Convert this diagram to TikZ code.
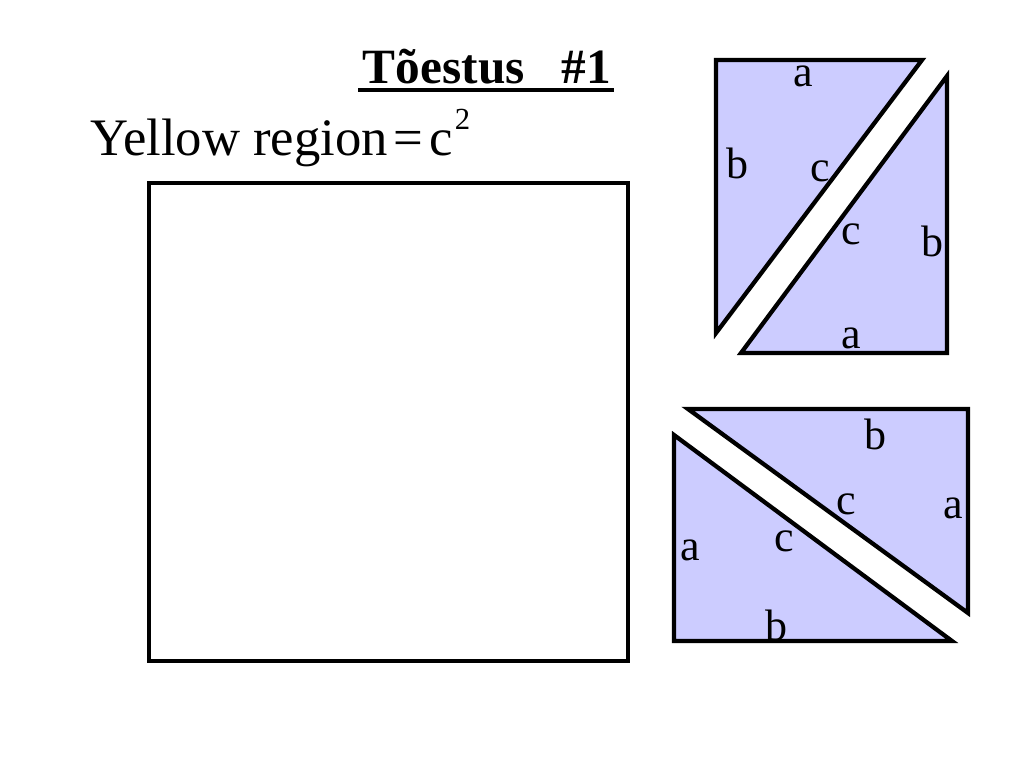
\documentclass[tikz,border=0pt]{standalone}
\usepackage{fontspec}
\setmainfont{Liberation Serif}
\definecolor{trifill}{RGB}{204,204,255}
\begin{document}
\begin{tikzpicture}[x=0.75pt,y=-0.75pt,
        tri/.style={draw=black,fill=trifill,line width=3.2pt},
        lbl/.style={inner sep=0pt,font=\fontsize{33}{33}\selectfont}]
        \useasboundingbox (0,0) rectangle (1024,768);
        %%%
        \node[anchor=base,inner sep=0pt,font=\fontsize{37}{37}\selectfont\bfseries] (title) at (487,83) {Tõestus\ \ \ \#1};
        \draw[line width=2.5pt] (358,90) -- (614,90);
        \node[anchor=base west,inner sep=0pt,font=\fontsize{39.5}{39.5}\selectfont] (yellow) at (90,155)
            {Yellow region\hspace{4.5pt}=\hspace{4.5pt}c\hspace{1.5pt}\raisebox{19pt}{\fontsize{23}{23}\selectfont 2}};
        %%%
        \draw[line width=3.2pt] (149,183) rectangle (628,661);
        %%%
        \draw[tri] (716,60) -- (922,60) -- (716,333) -- cycle;
        \draw[tri] (947,76) -- (947,353) -- (741,353) -- cycle;
        \node[lbl] (ta1) at (803,76) {a};
        \node[lbl] (tb1) at (737,163) {b};
        \node[lbl] (tc1) at (820,171) {c};
        \node[lbl] (tc2) at (851,234) {c};
        \node[lbl] (tb2) at (932,241) {b};
        \node[lbl] (ta2) at (851,338) {a};
        %%%
        \draw[tri] (688,409) -- (968,409) -- (968,613) -- cycle;
        \draw[tri] (674,435) -- (674,641) -- (952,641) -- cycle;
        \node[lbl] (bb1) at (875,434) {b};
        \node[lbl] (bc1) at (846,504) {c};
        \node[lbl] (ba1) at (953,508) {a};
        \node[lbl] (ba2) at (690,550) {a};
        \node[lbl] (bc2) at (784,541) {c};
        \node[lbl] (bb2) at (776,625) {b};
        %%%
\end{tikzpicture}
\end{document}
